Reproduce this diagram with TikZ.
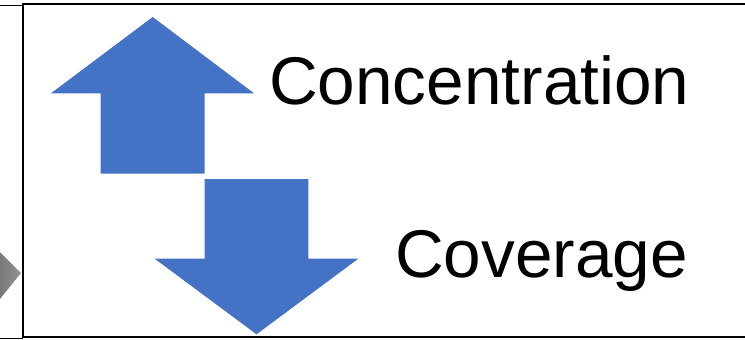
\documentclass[tikz,border=0pt]{standalone}
\usepackage{fontspec}
\setmainfont{Liberation Sans}
\definecolor{arrowblue}{HTML}{4472C4}
\begin{document}
\begin{tikzpicture}[
		x=1pt, y=-1pt,
		arrowshape/.style={fill=arrowblue, draw=none},
		labeltext/.style={anchor=base west, inner sep=0pt, font=\fontsize{67.5}{67.5}\selectfont},
		framebox/.style={draw=black, line width=#1}
		]
		\useasboundingbox (0,0) rectangle (745,340);
		
		% partly visible pointer and frame on the left
		\shade[left color=gray!95!black, right color=gray!85] (0,252) -- (21,273) -- (0,299) -- cycle;
		\draw[framebox=1pt] (-5,5) rectangle (22.5,338);
		
		% main frame
		\draw[framebox=2pt] (23,4) rectangle (760,337);
		
		% up arrow
		\fill[arrowshape] (152.7,17) -- (254,93.3) -- (204.7,93.3) -- (204.7,173.7)
			-- (100.7,173.7) -- (100.7,93.3) -- (51,93.3) -- cycle;
		% down arrow
		\fill[arrowshape] (204.7,179) -- (308.3,179) -- (308.3,258.7) -- (358.3,258.7)
			-- (256.5,334.3) -- (154.7,258.7) -- (204.7,258.7) -- cycle;
		
		\node[labeltext] (conc) at (269,104.5) {Concentration};
		\node[labeltext] (cov) at (395,277) {Coverage};
		
	\end{tikzpicture}
\end{document}
